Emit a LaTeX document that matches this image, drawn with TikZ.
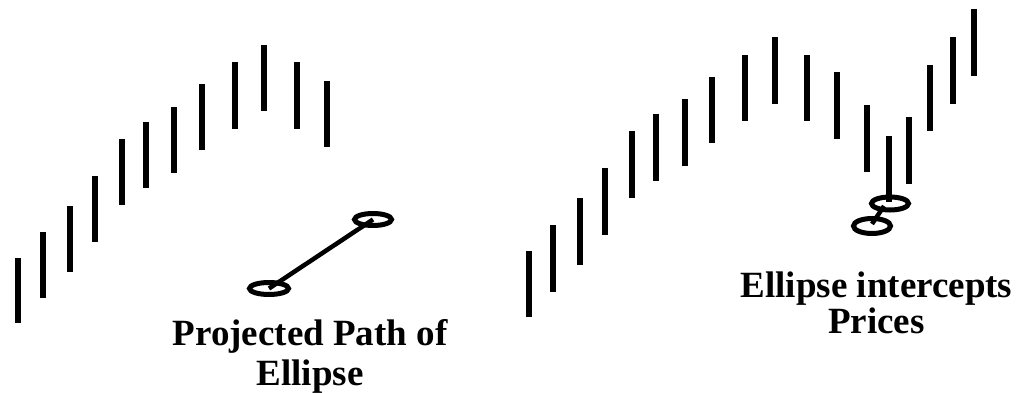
\documentclass[tikz,border=0pt]{standalone}
\usepackage{fontspec}
\setmainfont{Liberation Serif}
\begin{document}
\begin{tikzpicture}[x=1pt,y=-1pt,
  bar/.style={line width=5.5pt, line cap=butt},
  ell/.style={draw, line width=5pt},
  path/.style={line width=4.5pt},
  lbl/.style={font=\fontsize{37}{44}\selectfont\bfseries, inner sep=0pt, anchor=base}]
\useasboundingbox (0,0) rectangle (1020,393);
% left chart bars
\foreach \x/\t/\b in {18/258/323, 43/232/298, 70/206/272, 95/176/242, 122/139/205,
  146/122/188, 174/107/173, 202/84/150, 235/62/129, 264/45/111, 297/62/129, 327/81/147}
  \draw[bar] (\x,\t) -- (\x,\b);
% left ellipses
\draw[ell] (269,288.5) ellipse [x radius=19.5, y radius=6];
\draw[ell] (373,219.5) ellipse [x radius=18.5, y radius=6];
\coordinate (la) at (269,288.5);
\coordinate (lb) at (373,219.5);
\draw[path] (la) -- (lb);
\node[lbl] (t1) at (310,345) {Projected Path of};
\node[lbl] (t2) at (310,385) {Ellipse};
% right chart bars
\foreach \x/\t/\b in {529/251/317, 553/225/292, 580/198/265, 605/168/235, 632/131/198,
  656/114/181, 685/99/166, 712/77/143, 745/55/121, 775/37/104, 807/55/121, 837/72/139,
  867/105/172, 889/136/202, 909/117/184, 930/65/131, 953/37/104, 974/9/76}
  \draw[bar] (\x,\t) -- (\x,\b);
% right ellipses
\draw[ell] (890,203.5) ellipse [x radius=18.5, y radius=6.5];
\draw[ell] (872,226) ellipse [x radius=18.5, y radius=7.5];
\coordinate (ra) at (872,224);
\coordinate (rb) at (884,206);
\draw[path] (ra) -- (rb);
\node[lbl] (t3) at (876.5,297) {Ellipse intercepts};
\node[lbl] (t4) at (876.5,333) {Prices};
\end{tikzpicture}
\end{document}
